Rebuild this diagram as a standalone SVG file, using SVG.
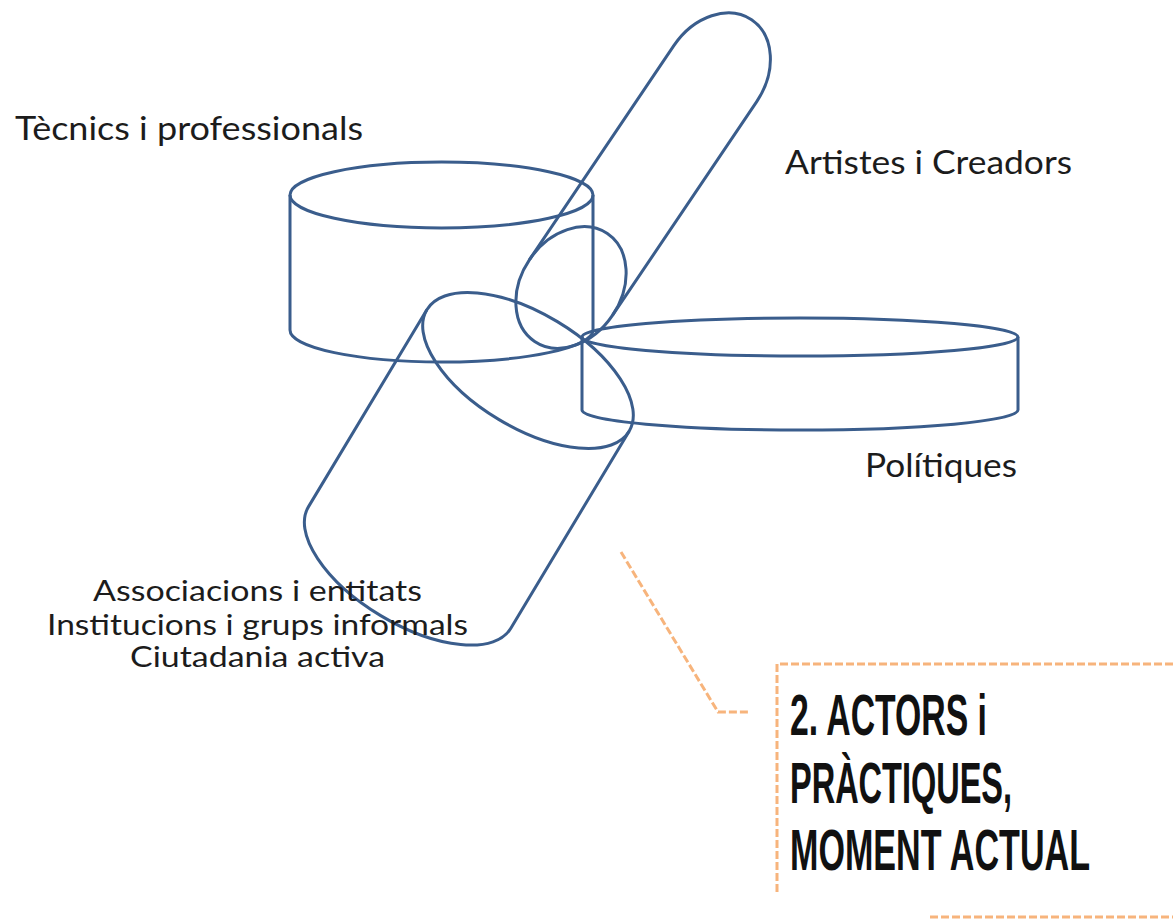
<svg xmlns="http://www.w3.org/2000/svg" width="1173" height="920" viewBox="0 0 1173 920">
<style>
.shape{fill:none;stroke:#3A5D8C;stroke-width:3;stroke-linejoin:round}
.lbl{font-family:Lato,"Open Sans","Liberation Sans",sans-serif;fill:#1c1c1c}
.title{font-family:"Liberation Sans",Arial,sans-serif;font-weight:bold;font-size:58px;fill:#111}
.dash{fill:none;stroke:#F7B47C;stroke-width:3;stroke-dasharray:8 3}
</style>
<rect width="1173" height="920" fill="#fff"/>
<g id="tecnics">
<ellipse class="shape" cx="441.5" cy="195" rx="151.5" ry="33"/>
<path class="shape" d="M290,195 V330 A151.5,32 0 0 0 593,330 V195"/>
</g>
<g id="politiques">
<ellipse class="shape" cx="800" cy="337" rx="218" ry="19"/>
<path class="shape" d="M582,337 V410 A218,20 0 0 0 1018,410 V337"/>
</g>
<g id="artistes" transform="translate(571,287.5) rotate(34)">
<ellipse class="shape" cx="0" cy="0" rx="50" ry="65"/>
<path class="shape" d="M-50,0 V-258 A50,65 0 0 1 50,-258 V0"/>
</g>
<g id="associacions" transform="translate(528,370.5) rotate(31)">
<ellipse class="shape" cx="0" cy="0" rx="118" ry="57"/>
<path class="shape" d="M-118,0 V230 A118,56 0 0 0 118,230 V0"/>
</g>
<g id="labels">
<text class="lbl" x="15" y="140" font-size="33" textLength="348" lengthAdjust="spacingAndGlyphs">Tècnics i professionals</text>
<text class="lbl" x="785" y="174" font-size="33" textLength="287" lengthAdjust="spacingAndGlyphs">Artistes i Creadors</text>
<text class="lbl" x="865" y="477" font-size="33" textLength="152" lengthAdjust="spacingAndGlyphs">Polítiques</text>
<text class="lbl" x="93" y="601" font-size="29" textLength="329" lengthAdjust="spacingAndGlyphs">Associacions i entitats</text>
<text class="lbl" x="47" y="635" font-size="29" textLength="421" lengthAdjust="spacingAndGlyphs">Institucions i grups informals</text>
<text class="lbl" x="130" y="667" font-size="29" textLength="255" lengthAdjust="spacingAndGlyphs">Ciutadania activa</text>
</g>
<g id="connectors">
<path class="dash" d="M621,552 L718,712 H748"/>
</g>
<g id="title-box">
<path class="dash" d="M777,892 V664 H1173"/>
<path class="dash" d="M930,917 H1173"/>
<text class="title" x="790" y="735" textLength="197" lengthAdjust="spacingAndGlyphs">2. ACTORS i</text>
<text class="title" x="790" y="803" textLength="222" lengthAdjust="spacingAndGlyphs">PRÀCTIQUES,</text>
<text class="title" x="790" y="870" textLength="300" lengthAdjust="spacingAndGlyphs">MOMENT ACTUAL</text>
</g>
</svg>
